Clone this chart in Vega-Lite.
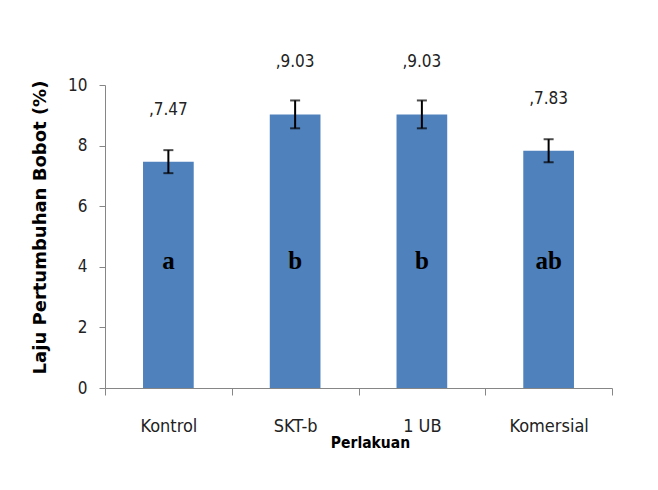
{
  "$schema": "https://vega.github.io/schema/vega-lite/v6.json",
  "autosize": "none",
  "width": 507,
  "height": 303,
  "padding": {"left": 105, "top": 85, "right": 46, "bottom": 102},
  "background": "white",
  "config": {
    "view": {"stroke": null},
    "font": "DejaVu Sans Condensed"
  },
  "data": {
    "values": [
      {"perlakuan": "Kontrol", "laju": 7.47, "err": 0.38, "label": ",7.47", "notasi": "a"},
      {"perlakuan": "SKT-b", "laju": 9.03, "err": 0.46, "label": ",9.03", "notasi": "b"},
      {"perlakuan": "1 UB", "laju": 9.03, "err": 0.46, "label": ",9.03", "notasi": "b"},
      {"perlakuan": "Komersial", "laju": 7.83, "err": 0.38, "label": ",7.83", "notasi": "ab"}
    ]
  },
  "encoding": {
    "x": {
      "field": "perlakuan",
      "type": "nominal",
      "sort": null,
      "scale": {"paddingInner": 0, "paddingOuter": 0},
      "axis": {
        "title": "Perlakuan",
        "titleFont": "DejaVu Sans Condensed",
        "titleFontSize": 15.5,
        "titleFontWeight": "bold",
        "titleColor": "black",
        "titlePadding": 0,
        "titleX": 265,
        "labelAngle": 0,
        "labelFont": "DejaVu Sans Condensed",
        "labelFontSize": 18,
        "labelColor": "#222",
        "labelPadding": 22,
        "tickBand": "extent",
        "tickSize": 7,
        "tickColor": "#868686",
        "domainColor": "#868686",
        "grid": false
      }
    }
  },
  "layer": [
    {
      "mark": {"type": "bar", "color": "#4F81BD", "width": {"band": 0.4}},
      "encoding": {
        "y": {
          "field": "laju",
          "type": "quantitative",
          "scale": {"domain": [0, 10]},
          "title": "Laju Pertumbuhan Bobot (%)",
          "axis": {
            "titleFont": "DejaVu Sans",
            "titleFontSize": 18,
            "titleFontWeight": "bold",
            "titleColor": "black",
            "titlePadding": 18,
            "titleY": 142,
            "values": [0, 2, 4, 6, 8, 10],
            "labelFont": "DejaVu Sans Condensed",
            "labelFontSize": 17,
            "labelColor": "#222",
            "labelPadding": 12,
            "tickSize": 6,
            "tickColor": "#868686",
            "domainColor": "#868686",
            "grid": false
          }
        }
      }
    },
    {
      "mark": {"type": "errorbar", "ticks": {"size": 10, "thickness": 2, "color": "black"}, "rule": {"strokeWidth": 2, "color": "black"}},
      "encoding": {
        "y": {"field": "laju", "type": "quantitative", "title": "Laju Pertumbuhan Bobot (%)"},
        "yError": {"field": "err"}
      }
    },
    {
      "mark": {"type": "text", "dy": -52, "font": "DejaVu Sans Condensed", "fontSize": 17, "color": "#222", "baseline": "middle"},
      "encoding": {
        "y": {"field": "laju", "type": "quantitative", "title": "Laju Pertumbuhan Bobot (%)"},
        "text": {"field": "label"}
      }
    },
    {
      "mark": {"type": "text", "font": "Liberation Serif", "fontWeight": "bold", "fontSize": 25, "color": "black", "baseline": "middle"},
      "encoding": {
        "y": {"datum": 4.2, "title": "Laju Pertumbuhan Bobot (%)"},
        "text": {"field": "notasi"}
      }
    }
  ]
}
